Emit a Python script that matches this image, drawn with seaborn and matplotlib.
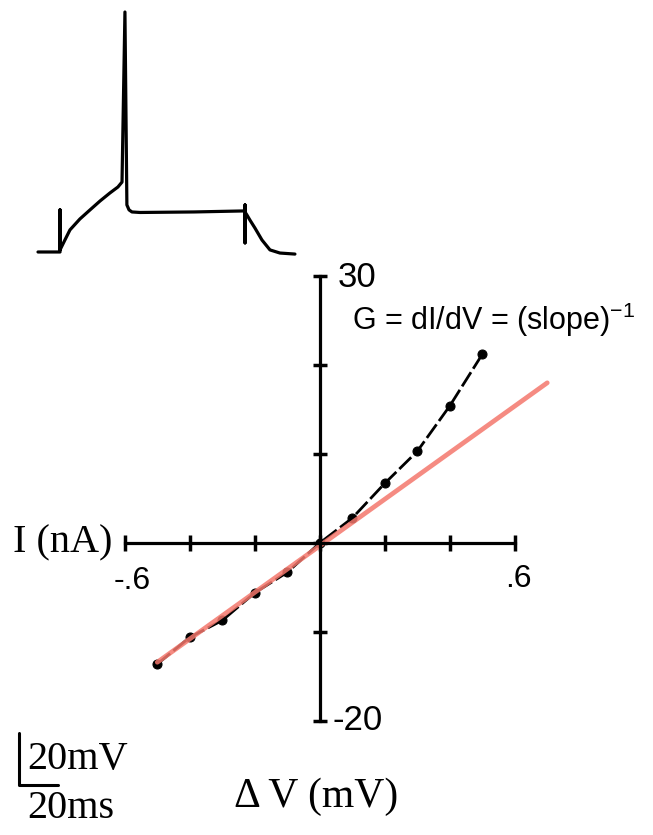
import matplotlib
matplotlib.use("Agg")
import matplotlib.pyplot as plt
import numpy as np
import pandas as pd
import seaborn as sns

# action potential trace (time in ms, membrane potential in mV)
trace_t = [0, 11.3, 11.3, 11.3, 13.8, 16.4, 21.5, 26.7, 31.8, 36.9, 41.0, 43.1, 44.6,
           45.6, 46.7, 48.2, 52.3, 80.0, 106.2, 106.2, 106.2, 106.2, 107.2, 108.7,
           111.3, 114.9, 119.0, 124.1, 131.8]
trace_v = [-70, -70, -53.8, -69.2, -65.4, -61.5, -57.3, -53.8, -50.4, -47.3, -45.0, -43.1, 22.3,
           -51.9, -53.8, -54.6, -54.8, -54.6, -54.2, -51.9, -66.5, -54.6, -55.8, -57.7,
           -60.8, -65.4, -69.2, -70.4, -70.8]

# scale bar: 20 ms, 20 mV
scale_t = [0, 0, 20]
scale_v = [20, 0, 0]

# I-V relation
iv_v = [-0.5, -0.4, -0.3, -0.2, -0.1, 0.0, 0.1, 0.2, 0.3, 0.4, 0.5]
iv_i = [-13.6, -10.6, -8.7, -5.6, -3.3, 0.0, 2.8, 6.7, 10.3, 15.4, 21.2]

# linear fit near rest
fit_v = [-0.5, 0.7]
fit_i = [-13.4, 18.0]

x_ticks = [-0.6, -0.4, -0.2, 0.0, 0.2, 0.4, 0.6]
y_ticks = [-20, -10, 0, 10, 20, 30]

sns.set_style("white")
plt.rcParams["font.family"] = ["Liberation Sans", "DejaVu Sans"]
plt.rcParams["mathtext.default"] = "regular"
plt.rcParams["text.color"] = "black"

W, H = 653, 835
fig = plt.figure(figsize=(W / 100, H / 100), dpi=100)


def box(x0, y0, x1, y1):
    # pixel box (top-left origin) -> figure fraction rect
    return [x0 / W, 1 - y1 / H, (x1 - x0) / W, (y1 - y0) / H]


# --- trace ---
ax_tr = fig.add_axes(box(30, 5, 300, 262))
sns.lineplot(x=trace_t, y=trace_v, sort=False, estimator=None, color="black",
             linewidth=2.3, ax=ax_tr)
ax_tr.set_xlim(-4.1, 134.4)
ax_tr.set_ylim(-73.85, 25.0)
ax_tr.axis("off")

# --- scale bar ---
ax_sc = fig.add_axes(box(19, 733, 58, 785))
sns.lineplot(x=scale_t, y=scale_v, sort=False, estimator=None, color="black",
             linewidth=2.2, ax=ax_sc)
for ln in ax_sc.lines:
    ln.set_clip_on(False)
ax_sc.set_xlim(0, 20)
ax_sc.set_ylim(0, 20)
ax_sc.axis("off")

serif = ["Liberation Serif", "DejaVu Serif"]
fig.text(27 / W, 1 - 760 / H, "20mV", family=serif, fontsize=29, ha="left", va="center")
fig.text(27 / W, 1 - 808 / H, "20ms", family=serif, fontsize=29, ha="left", va="center")

# --- I-V plot ---
ax = fig.add_axes(box(76, 249.3, 596, 747.7))
ax.patch.set_alpha(0)
sns.lineplot(x=iv_v, y=iv_i, color="black", linewidth=2.0, linestyle=(0, (6, 1.5)),
             marker="o", markersize=6.5, markeredgecolor="black", ax=ax)
sns.lineplot(x=fit_v, y=fit_i, color="#f4776c", linewidth=3.4, alpha=0.85, ax=ax)
ax.set_xlim(-0.75, 0.85)
ax.set_ylim(-23, 33)

for s in ["top", "right"]:
    ax.spines[s].set_visible(False)
ax.spines["left"].set_position(("data", 0))
ax.spines["bottom"].set_position(("data", 0))
ax.spines["left"].set_bounds(-20, 30)
ax.spines["bottom"].set_bounds(-0.6, 0.6)
for s in ["left", "bottom"]:
    ax.spines[s].set_color("black")
    ax.spines[s].set_linewidth(2.3)
ax.set_xticks(x_ticks)
ax.set_yticks(y_ticks)
ax.set_xticklabels([])
ax.set_yticklabels([])
ax.tick_params(axis="x", bottom=True, direction="inout", length=11.5, width=2.5, color="black")
ax.tick_params(axis="y", left=True, direction="inout", length=9.5, width=2.5, color="black")
ax.set_xlabel("")
ax.set_ylabel("")

ax.text(0.055, 29.8, "30", fontsize=25, ha="left", va="center")
ax.text(0.04, -19.9, "-20", fontsize=25, ha="left", va="center")
ax.text(-0.578, -4.3, "-.6", fontsize=23, ha="center", va="center")
ax.text(0.61, -4.0, ".6", fontsize=23, ha="center", va="center")
ax.text(-0.637, 0.0, "I (nA)", family=serif, fontsize=29, ha="right", va="center")
ax.text(0.10, 23.9, "G = dI/dV = (slope)$^{-1}$", fontsize=22, ha="left", va="baseline")

fig.text(316 / W, 1 - 797 / H, "\u0394 V (mV)", family=serif, fontsize=30, ha="center", va="center")

fig.savefig("out.png", dpi=100)
